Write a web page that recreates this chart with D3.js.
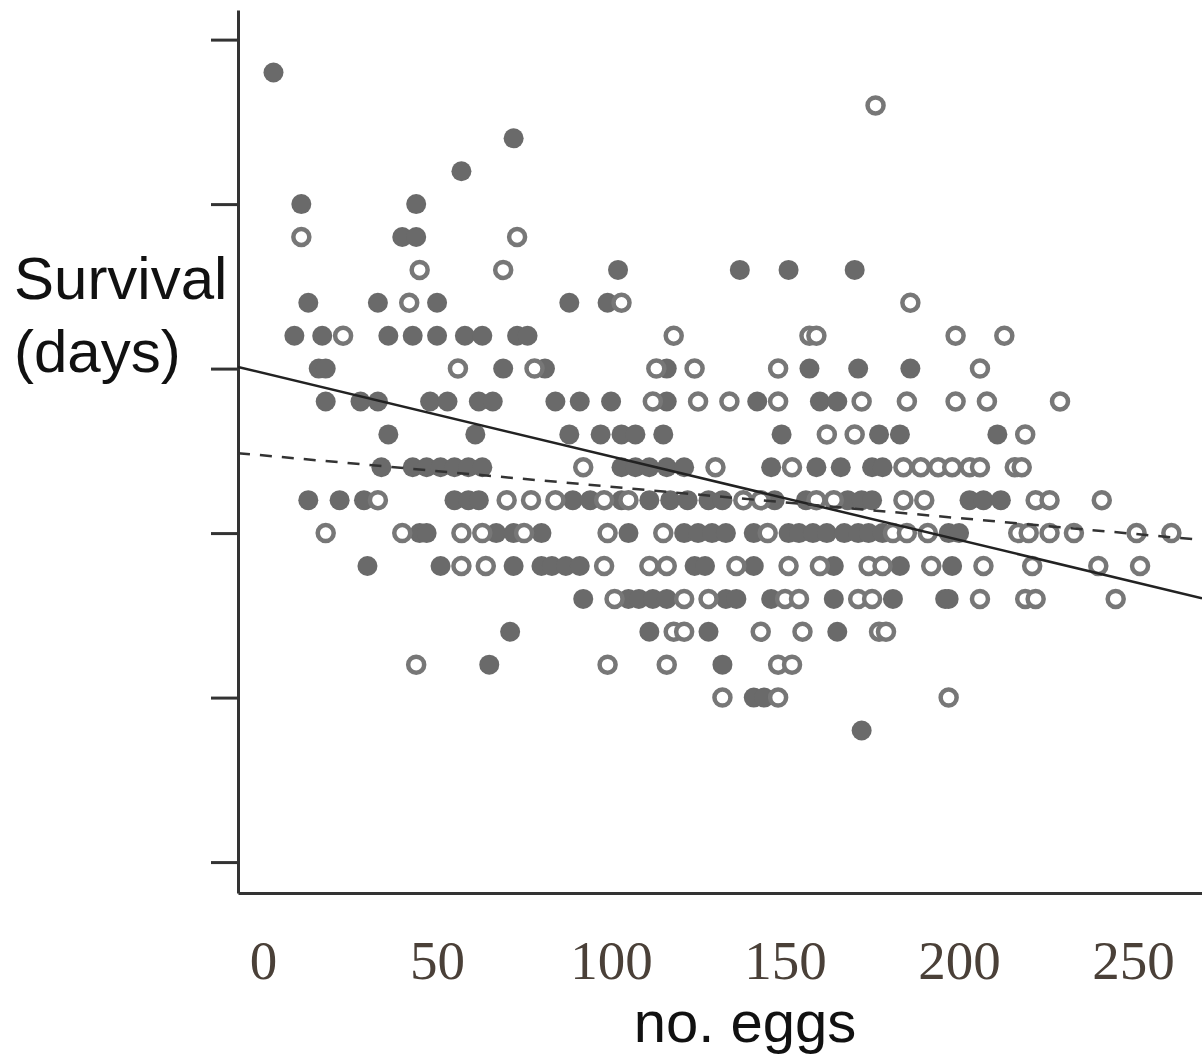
<!DOCTYPE html>
<html>
<head>
<meta charset="utf-8">
<script src="https://cdn.jsdelivr.net/npm/d3@7"></script>
<style>
  body { margin: 0; background: #fff; }
</style>
</head>
<body>
<div id="chart"></div>
<script>
const WIDTH = 1202;
const HEIGHT = 1056;

// survival (days) rows, each with the egg counts of the birds on that row
const filledRows = [
  { days: 24, eggs: [3] },
  { days: 22, eggs: [72] },
  { days: 21, eggs: [57] },
  { days: 20, eggs: [11, 44] },
  { days: 19, eggs: [40, 44] },
  { days: 18, eggs: [102, 137, 151, 170] },
  { days: 17, eggs: [13, 33, 50, 88, 99] },
  { days: 16, eggs: [9, 17, 36, 43, 50, 58, 63, 73, 76] },
  { days: 15, eggs: [16, 18, 69, 81, 116, 157, 171, 186] },
  { days: 14, eggs: [18, 28, 33, 48, 53, 62, 66, 84, 91, 100, 116, 142, 160, 165] },
  { days: 13, eggs: [36, 61, 88, 97, 103, 107, 115, 149, 177, 183, 211] },
  { days: 12, eggs: [34, 43, 47, 51, 55, 59, 63, 103, 107, 111, 116, 121, 146, 159, 166, 175, 178] },
  { days: 11, eggs: [13, 22, 29, 55, 59, 62, 89, 94, 103, 111, 117, 122, 128, 132, 147, 156, 168, 172, 175, 203, 207, 212] },
  { days: 10, eggs: [45, 47, 67, 72, 80, 105, 121, 125, 129, 133, 141, 151, 154, 158, 162, 167, 171, 174, 178, 197, 200] },
  { days: 9, eggs: [30, 51, 72, 80, 83, 87, 91, 124, 127, 141, 164, 183, 198] },
  { days: 8, eggs: [92, 105, 108, 112, 116, 133, 136, 146, 164, 181, 196, 197] },
  { days: 7, eggs: [71, 111, 128, 165] },
  { days: 6, eggs: [65, 132] },
  { days: 5, eggs: [141, 144] },
  { days: 4, eggs: [172] }
];

const openRows = [
  { days: 23, eggs: [176] },
  { days: 19, eggs: [11, 73] },
  { days: 18, eggs: [45, 69] },
  { days: 17, eggs: [42, 103, 186] },
  { days: 16, eggs: [23, 118, 157, 159, 199, 213] },
  { days: 15, eggs: [56, 78, 113, 124, 148, 206] },
  { days: 14, eggs: [112, 125, 134, 148, 172, 185, 199, 208, 229] },
  { days: 13, eggs: [162, 170, 219] },
  { days: 12, eggs: [92, 130, 152, 184, 189, 194, 198, 203, 206, 216, 218] },
  { days: 11, eggs: [33, 70, 77, 84, 98, 105, 138, 143, 159, 164, 184, 190, 222, 226, 241] },
  { days: 10, eggs: [18, 40, 57, 63, 75, 99, 115, 145, 181, 185, 191, 217, 220, 226, 233, 251, 261] },
  { days: 9, eggs: [57, 64, 98, 111, 116, 136, 151, 160, 174, 178, 192, 207, 221, 240, 252] },
  { days: 8, eggs: [101, 121, 128, 150, 154, 171, 175, 206, 219, 222, 245] },
  { days: 7, eggs: [118, 121, 143, 155, 177, 179] },
  { days: 6, eggs: [44, 99, 116, 148, 152] },
  { days: 5, eggs: [132, 148, 197] }
];

// fitted lines, read at both ends of the plot
const fitEggs = [-7.2, 269.8];
const solidFitDays = [15.05, 8.02];
const dashedFitDays = [12.43, 9.79];

const xTicks = [0, 50, 100, 150, 200, 250];
const yTicks = [0, 5, 10, 15, 20, 25];

const svg = d3
  .select("#chart")
  .append("svg")
  .attr("width", WIDTH)
  .attr("height", HEIGHT);

const x = d3.scaleLinear().domain([-7.2, 269.8]).range([238, 1202]);
const y = d3.scaleLinear().domain([-0.94, 25.9]).range([893, 10]);

// AXES
svg
  .append("g")
  .attr("transform", `translate(${x.range()[0]}, 0)`)
  .call(d3.axisLeft(y).tickValues(yTicks).tickSize(27).tickSizeOuter(0).tickFormat(""))
  .call((g) => {
    g.select(".domain").attr("stroke", "#333").attr("stroke-width", 3);
    g.selectAll(".tick line").attr("stroke", "#333").attr("stroke-width", 3);
  });

svg
  .append("g")
  .attr("transform", `translate(0, ${y.range()[0]})`)
  .call(d3.axisBottom(x).tickValues(xTicks).tickSize(0).tickSizeOuter(0).tickPadding(47))
  .call((g) => {
    g.select(".domain").attr("stroke", "#333").attr("stroke-width", 3);
    g.selectAll(".tick text")
      .attr("font-family", "'Liberation Serif', 'DejaVu Serif', serif")
      .attr("font-size", "55px")
      .attr("fill", "#4a4038");
  });

// LABELS
const yLabel = svg
  .append("text")
  .attr("font-family", "'Liberation Sans', Arial, sans-serif")
  .attr("font-size", "60px")
  .attr("fill", "#111");
yLabel.append("tspan").attr("x", 14).attr("y", 299).text("Survival");
yLabel.append("tspan").attr("x", 14).attr("y", 372).text("(days)");

svg
  .append("text")
  .attr("x", 745)
  .attr("y", 1042)
  .attr("text-anchor", "middle")
  .attr("font-family", "'Liberation Sans', Arial, sans-serif")
  .attr("font-size", "58px")
  .attr("fill", "#111")
  .text("no. eggs");

// POINTS
const flatten = (rows) =>
  rows.flatMap((r) => r.eggs.map((e) => ({ eggs: e, days: r.days })));

svg
  .append("g")
  .selectAll("circle")
  .data(flatten(filledRows))
  .join("circle")
  .attr("cx", (d) => x(d.eggs))
  .attr("cy", (d) => y(d.days))
  .attr("r", 10)
  .attr("fill", "#6a6a6a");

svg
  .append("g")
  .selectAll("circle")
  .data(flatten(openRows))
  .join("circle")
  .attr("cx", (d) => x(d.eggs))
  .attr("cy", (d) => y(d.days))
  .attr("r", 8)
  .attr("fill", "#fff")
  .attr("stroke", "#777")
  .attr("stroke-width", 4.5);

// FIT LINES
const line = d3.line().x((d) => x(d[0])).y((d) => y(d[1]));

svg
  .append("path")
  .datum(d3.zip(fitEggs, solidFitDays))
  .attr("d", line)
  .attr("fill", "none")
  .attr("stroke", "#222")
  .attr("stroke-width", 2.5);

svg
  .append("path")
  .datum(d3.zip(fitEggs, dashedFitDays))
  .attr("d", line)
  .attr("fill", "none")
  .attr("stroke", "#333")
  .attr("stroke-width", 2.5)
  .attr("stroke-dasharray", "12,10");
</script>
</body>
</html>
